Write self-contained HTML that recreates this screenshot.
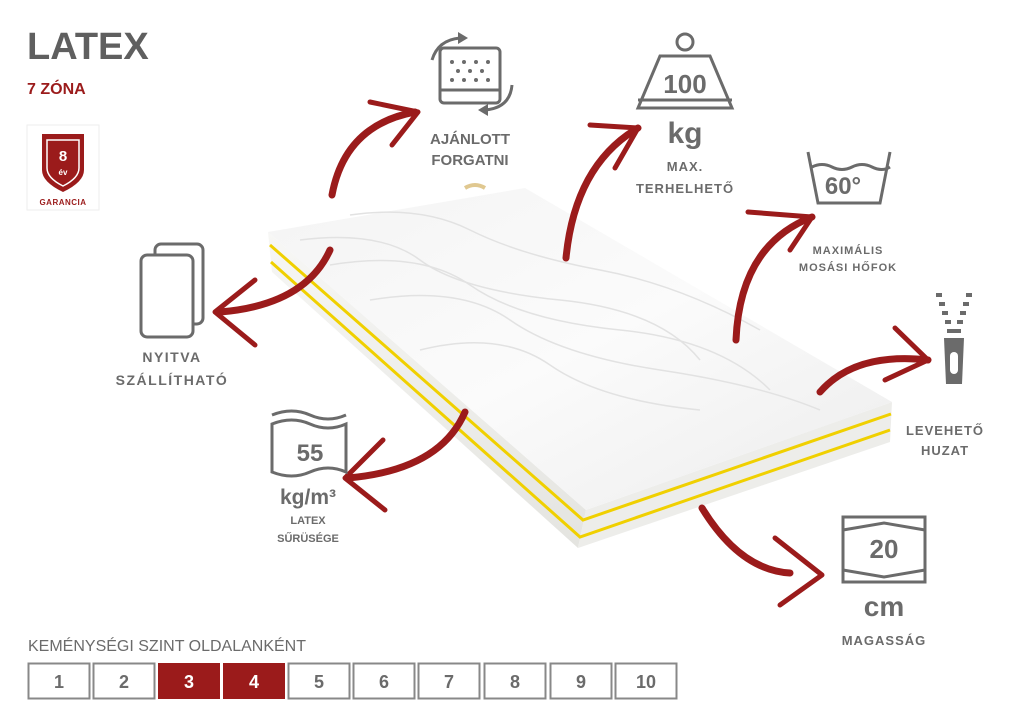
<!DOCTYPE html>
<html><head><meta charset="utf-8"><style>
html,body{margin:0;padding:0;background:#fff;}
svg{display:block;}
text{font-family:"Liberation Sans",sans-serif;}
</style></head><body>
<svg width="1024" height="724" viewBox="0 0 1024 724" xmlns="http://www.w3.org/2000/svg">
<defs>
<linearGradient id="top" x1="0" y1="0" x2="1" y2="1">
<stop offset="0" stop-color="#f4f4f4"/><stop offset="0.5" stop-color="#fbfbfb"/><stop offset="1" stop-color="#ececec"/>
</linearGradient>
<linearGradient id="side" x1="0" y1="0" x2="0" y2="1">
<stop offset="0" stop-color="#f7f7f5"/><stop offset="1" stop-color="#e4e4e0"/>
</linearGradient>
</defs>
<rect width="1024" height="724" fill="#fff"/>

<!-- header -->
<text x="27" y="59" font-size="38" font-weight="bold" fill="#5f5f5f">LATEX</text>
<text x="27" y="94" font-size="16" font-weight="bold" fill="#9b1b1b">7 ZÓNA</text>
<rect x="27" y="125" width="72" height="85" fill="#fff" stroke="#eee"/>
<path d="M42 134 L84 134 L84 170 Q84 182 63 192 Q42 182 42 170 Z" fill="#9b1b1b"/>
<path d="M47 140 L79 140 L79 168 Q79 178 63 186 Q47 178 47 168 Z" fill="none" stroke="#fff" stroke-width="1.5"/>
<text x="63" y="161" font-size="15" font-weight="bold" fill="#fff" text-anchor="middle">8</text>
<text x="63" y="175" font-size="8" font-weight="bold" fill="#fff" text-anchor="middle">év</text>
<text x="63" y="205" font-size="8" font-weight="bold" fill="#9b1b1b" text-anchor="middle" letter-spacing="0.5">GARANCIA</text>

<!-- mattress -->
<polygon points="268,232 272,272 578,548 586,510" fill="url(#side)"/>
<polygon points="586,510 578,548 890,442 892,402" fill="#ededea"/>
<polygon points="268,232 525,188 892,402 586,510" fill="url(#top)"/>
<g fill="none" stroke="#e2e2e2" stroke-width="1.5">
<path d="M300 240 Q380 230 420 260 T560 300 T700 360"/>
<path d="M330 265 Q420 250 470 285 T620 330 T770 390"/>
<path d="M370 300 Q460 285 510 320 T660 370 T820 410"/>
<path d="M420 350 Q500 330 550 365 T700 410"/>
<path d="M350 215 Q420 205 470 230 T600 270 T760 330"/>
</g>
<polyline points="270,245 583,520 891,414" fill="none" stroke="#f0d000" stroke-width="3"/>
<polyline points="271,262 580,537 890,430" fill="none" stroke="#f0d000" stroke-width="3"/>
<path d="M465 188 q10 -6 20 0" stroke="#e0c890" stroke-width="4" fill="none"/>

<!-- arrows -->
<g fill="none" stroke="#9b1b1b" stroke-width="7" stroke-linecap="round" stroke-linejoin="round">
<path d="M332 195 Q345 125 415 112"/>
<path d="M370 102 L418 112 L392 145" stroke-width="5"/>
<path d="M330 250 Q305 305 220 312"/>
<path d="M255 280 L215 312 L255 345" stroke-width="5"/>
<path d="M566 258 Q575 165 638 128"/>
<path d="M590 125 L638 128 L615 168" stroke-width="5"/>
<path d="M736 340 Q740 245 812 217"/>
<path d="M748 212 L812 217 L790 250" stroke-width="5"/>
<path d="M820 392 Q855 352 928 360"/>
<path d="M895 328 L928 360 L885 380" stroke-width="5"/>
<path d="M465 412 Q440 470 348 478"/>
<path d="M383 440 L345 478 L385 510" stroke-width="5"/>
<path d="M702 508 Q740 570 790 573"/>
<path d="M775 538 L822 575 L780 605" stroke-width="5"/>
</g>

<!-- icons -->
<g fill="none" stroke="#6b6b6b" stroke-width="3">
<!-- rotate -->
<rect x="440" y="48" width="60" height="55" rx="4"/>
<line x1="440" y1="90" x2="500" y2="90"/>
<path d="M432 60 Q438 40 460 38"/><path d="M512 85 Q510 108 485 110"/>
<!-- weight -->
<circle cx="685" cy="42" r="8"/>
<path d="M660 56 L710 56 L732 108 L638 108 Z"/>
<line x1="638" y1="100" x2="732" y2="100"/>
<!-- basin -->
<path d="M808 152 L818 203 L880 203 L890 152"/>
<path d="M812 167 q10 -5 20 0 t20 0 t20 0 t18 0"/>
<!-- sheets -->
<rect x="155" y="244" width="48" height="80" rx="6"/>
<rect x="141" y="255" width="52" height="82" rx="6" fill="#fff"/>
<!-- density -->
<path d="M272 424 q20 -8 38 0 t36 0 L346 472 q-18 -8 -36 0 t-38 0 Z"/>
<path d="M272 415 q20 -8 38 0 t36 0"/>
<!-- height -->
<rect x="843" y="517" width="82" height="65"/>
<path d="M843 530 L884 523 L925 530"/><path d="M843 570 L884 577 L925 570"/>
</g>
<g fill="#6b6b6b">
<circle cx="452" cy="62" r="2"/><circle cx="464" cy="62" r="2"/><circle cx="476" cy="62" r="2"/><circle cx="488" cy="62" r="2"/>
<circle cx="458" cy="71" r="2"/><circle cx="470" cy="71" r="2"/><circle cx="482" cy="71" r="2"/>
<circle cx="452" cy="80" r="2"/><circle cx="464" cy="80" r="2"/><circle cx="476" cy="80" r="2"/><circle cx="488" cy="80" r="2"/>
<path d="M458 32 L468 38 L458 44 Z"/><path d="M488 104 L478 110 L488 116 Z"/>
<!-- zipper -->
<rect x="936" y="293" width="6" height="4"/><rect x="966" y="293" width="6" height="4"/>
<rect x="939" y="302" width="6" height="4"/><rect x="963" y="302" width="6" height="4"/>
<rect x="942" y="311" width="6" height="4"/><rect x="960" y="311" width="6" height="4"/>
<rect x="945" y="320" width="6" height="4"/><rect x="957" y="320" width="6" height="4"/>
<rect x="947" y="329" width="14" height="4"/>
<path d="M944 338 L964 338 L962 384 L946 384 Z"/>
</g>
<rect x="950" y="352" width="8" height="22" rx="4" fill="#fff"/>

<g fill="#6b6b6b" font-weight="bold" text-anchor="middle">
<text x="470" y="144" font-size="15">AJÁNLOTT</text>
<text x="470" y="165" font-size="15">FORGATNI</text>
<text x="685" y="93" font-size="26">100</text>
<text x="685" y="143" font-size="30">kg</text>
<text x="685" y="171" font-size="13" letter-spacing="1">MAX.</text>
<text x="685" y="193" font-size="13" letter-spacing="1">TERHELHETŐ</text>
<text x="843" y="194" font-size="24">60°</text>
<text x="848" y="254" font-size="11" letter-spacing="1">MAXIMÁLIS</text>
<text x="848" y="271" font-size="11" letter-spacing="1">MOSÁSI HŐFOK</text>
<text x="172" y="362" font-size="14" letter-spacing="1.5">NYITVA</text>
<text x="172" y="385" font-size="14" letter-spacing="1.5">SZÁLLÍTHATÓ</text>
<text x="310" y="461" font-size="24">55</text>
<text x="308" y="504" font-size="21">kg/m³</text>
<text x="308" y="524" font-size="11">LATEX</text>
<text x="308" y="542" font-size="11">SŰRÜSÉGE</text>
<text x="945" y="435" font-size="13" letter-spacing="1">LEVEHETŐ</text>
<text x="945" y="455" font-size="13" letter-spacing="1">HUZAT</text>
<text x="884" y="558" font-size="26">20</text>
<text x="884" y="616" font-size="28">cm</text>
<text x="884" y="645" font-size="13" letter-spacing="1">MAGASSÁG</text>
</g>

<!-- firmness -->
<text x="28" y="651" font-size="16" fill="#6b6b6b">KEMÉNYSÉGI SZINT OLDALANKÉNT</text>
<g font-size="18" font-weight="bold" text-anchor="middle">
<rect x="28.5" y="663.5" width="61" height="35" fill="#fff" stroke="#888" stroke-width="2"/><text x="59" y="688" fill="#6b6b6b">1</text>
<rect x="93.5" y="663.5" width="61" height="35" fill="#fff" stroke="#888" stroke-width="2"/><text x="124" y="688" fill="#6b6b6b">2</text>
<rect x="158" y="663" width="62" height="36" fill="#9b1b1b"/><text x="189" y="688" fill="#fff">3</text>
<rect x="223" y="663" width="62" height="36" fill="#9b1b1b"/><text x="254" y="688" fill="#fff">4</text>
<rect x="288.5" y="663.5" width="61" height="35" fill="#fff" stroke="#888" stroke-width="2"/><text x="319" y="688" fill="#6b6b6b">5</text>
<rect x="353.5" y="663.5" width="61" height="35" fill="#fff" stroke="#888" stroke-width="2"/><text x="384" y="688" fill="#6b6b6b">6</text>
<rect x="418.5" y="663.5" width="61" height="35" fill="#fff" stroke="#888" stroke-width="2"/><text x="449" y="688" fill="#6b6b6b">7</text>
<rect x="484.5" y="663.5" width="61" height="35" fill="#fff" stroke="#888" stroke-width="2"/><text x="515" y="688" fill="#6b6b6b">8</text>
<rect x="550.5" y="663.5" width="61" height="35" fill="#fff" stroke="#888" stroke-width="2"/><text x="581" y="688" fill="#6b6b6b">9</text>
<rect x="615.5" y="663.5" width="61" height="35" fill="#fff" stroke="#888" stroke-width="2"/><text x="646" y="688" fill="#6b6b6b">10</text>
</g>
</svg>
</body></html>
